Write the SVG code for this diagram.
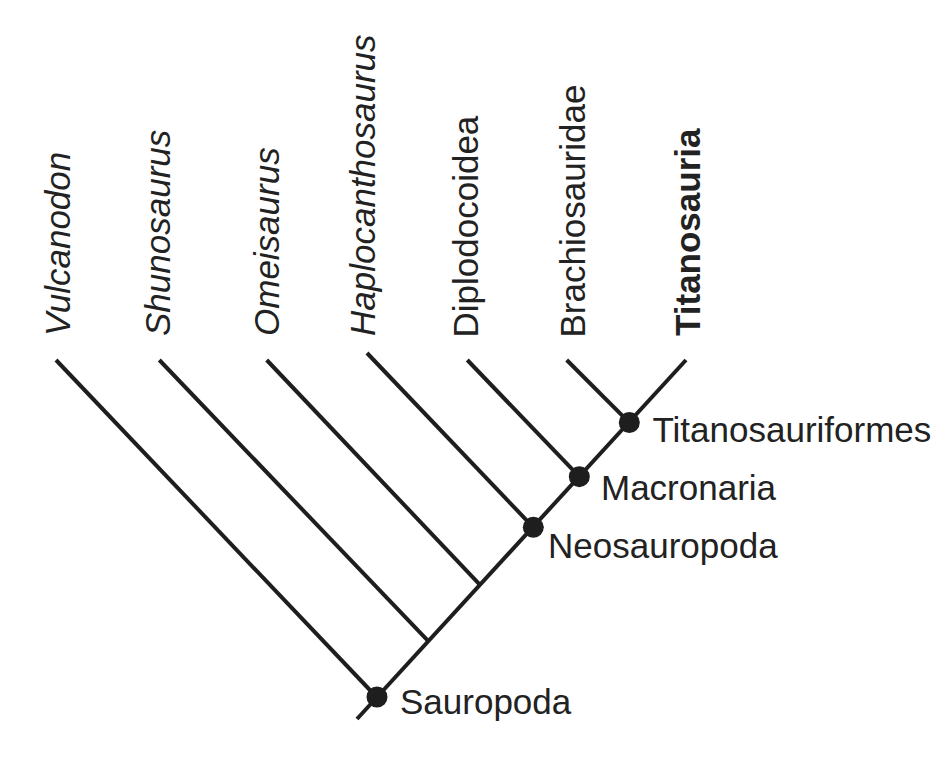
<svg xmlns="http://www.w3.org/2000/svg" width="951" height="772" viewBox="0 0 951 772">
<style>
.ln{stroke:#1e1e1e;stroke-width:4;fill:none;stroke-linecap:butt}
.dot{fill:#1e1e1e}
text{font-family:"Liberation Sans",Arial,sans-serif;font-size:35px;fill:#222}
.it{font-style:italic}
.bd{font-weight:bold}
</style>
<rect width="951" height="772" fill="#ffffff"/>
<g id="connectors">
<line class="ln" x1="357" y1="719" x2="686" y2="360"/>
<line class="ln" x1="56" y1="360" x2="377" y2="697.5"/>
<line class="ln" x1="159.3" y1="360" x2="428.3" y2="641.2"/>
<line class="ln" x1="266.7" y1="360" x2="480" y2="584.8"/>
<line class="ln" x1="367" y1="353" x2="533.3" y2="527.3"/>
<line class="ln" x1="467.3" y1="360" x2="579.3" y2="476.7"/>
<line class="ln" x1="566.7" y1="360" x2="629.3" y2="422.7"/>
</g>
<g id="leaf-vulcanodon"><text class="it" transform="translate(70,336) rotate(-90)">Vulcanodon</text></g>
<g id="leaf-shunosaurus"><text class="it" transform="translate(170,336) rotate(-90)">Shunosaurus</text></g>
<g id="leaf-omeisaurus"><text class="it" transform="translate(279,336) rotate(-90)">Omeisaurus</text></g>
<g id="leaf-haplocanthosaurus"><text class="it" transform="translate(375,336) rotate(-90)">Haplocanthosaurus</text></g>
<g id="leaf-diplodocoidea"><text transform="translate(478,337.5) rotate(-90)">Diplodocoidea</text></g>
<g id="leaf-brachiosauridae"><text transform="translate(585,337.5) rotate(-90)">Brachiosauridae</text></g>
<g id="leaf-titanosauria"><text class="bd" transform="translate(700,336) rotate(-90)">Titanosauria</text></g>
<g id="node-sauropoda"><circle class="dot" cx="377" cy="697" r="10.5"/><text x="400" y="714">Sauropoda</text></g>
<g id="node-neosauropoda"><circle class="dot" cx="533.3" cy="527.3" r="10.5"/><text x="548" y="558">Neosauropoda</text></g>
<g id="node-macronaria"><circle class="dot" cx="579.3" cy="476.7" r="10.5"/><text x="601" y="500">Macronaria</text></g>
<g id="node-titanosauriformes"><circle class="dot" cx="629.3" cy="422.5" r="10.5"/><text x="652.5" y="441.5">Titanosauriformes</text></g>
</svg>
